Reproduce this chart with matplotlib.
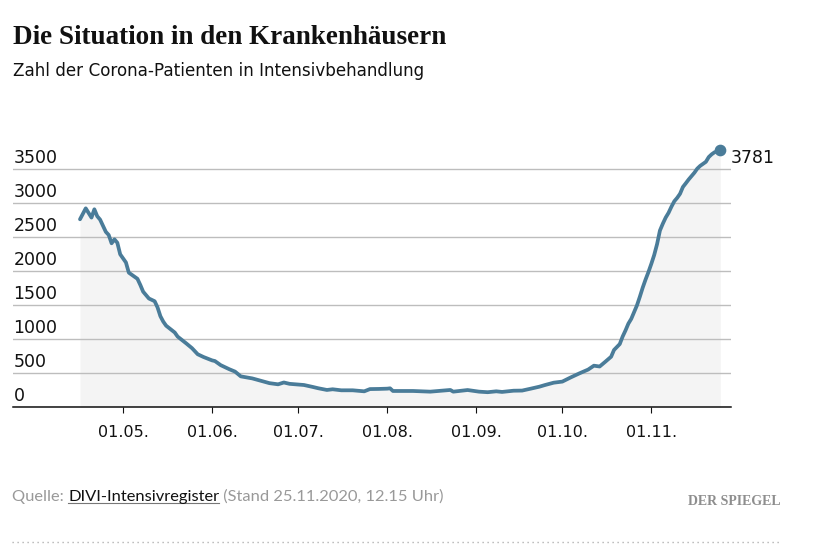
import matplotlib
matplotlib.use("Agg")
import matplotlib.pyplot as plt
import matplotlib.dates as mdates
from matplotlib.lines import Line2D
import numpy as np
import warnings
warnings.filterwarnings("ignore")

# ---------------- data ----------------
dates = ["2020-04-16", "2020-04-18", "2020-04-20", "2020-04-21", "2020-04-22", "2020-04-23",
         "2020-04-25", "2020-04-26", "2020-04-27", "2020-04-28", "2020-04-29", "2020-04-30",
         "2020-05-02", "2020-05-03", "2020-05-04", "2020-05-06", "2020-05-07", "2020-05-08",
         "2020-05-10", "2020-05-12", "2020-05-13", "2020-05-14", "2020-05-15", "2020-05-16",
         "2020-05-19", "2020-05-20", "2020-05-23", "2020-05-25", "2020-05-27", "2020-05-29",
         "2020-06-01", "2020-06-02", "2020-06-04", "2020-06-07", "2020-06-09", "2020-06-11",
         "2020-06-15", "2020-06-18", "2020-06-21", "2020-06-24", "2020-06-26", "2020-06-28",
         "2020-07-03", "2020-07-06", "2020-07-08", "2020-07-11", "2020-07-13", "2020-07-16",
         "2020-07-20", "2020-07-24", "2020-07-26", "2020-07-29", "2020-08-01", "2020-08-02",
         "2020-08-03", "2020-08-07", "2020-08-10", "2020-08-16", "2020-08-23", "2020-08-24",
         "2020-08-29", "2020-09-02", "2020-09-05", "2020-09-08", "2020-09-10", "2020-09-14",
         "2020-09-17", "2020-09-20", "2020-09-23", "2020-09-25", "2020-09-28", "2020-10-01",
         "2020-10-04", "2020-10-07", "2020-10-10", "2020-10-12", "2020-10-14", "2020-10-16",
         "2020-10-18", "2020-10-19", "2020-10-21", "2020-10-22", "2020-10-23", "2020-10-24",
         "2020-10-25", "2020-10-26", "2020-10-27", "2020-10-28", "2020-10-29", "2020-10-30",
         "2020-10-31", "2020-11-01", "2020-11-02", "2020-11-03", "2020-11-04", "2020-11-05",
         "2020-11-06", "2020-11-07", "2020-11-08", "2020-11-09", "2020-11-10", "2020-11-11",
         "2020-11-12", "2020-11-13", "2020-11-14", "2020-11-15", "2020-11-16", "2020-11-17",
         "2020-11-18", "2020-11-19", "2020-11-20", "2020-11-21", "2020-11-22", "2020-11-23",
         "2020-11-24", "2020-11-25"]
patients = [2765, 2926, 2790, 2912, 2810, 2760,
            2580, 2534, 2412, 2470, 2420, 2250,
            2130, 1980, 1950, 1890, 1800, 1700,
            1600, 1560, 1470, 1340, 1260, 1200,
            1100, 1040, 940, 870, 780, 740,
            690, 680, 620, 560, 525, 455,
            425, 390, 355, 338, 365, 345,
            328, 300, 280, 255, 265, 250,
            250, 235, 268, 270, 274, 279,
            240, 240, 240, 230, 255, 230,
            254, 230, 222, 235, 226, 244,
            246, 274, 303, 328, 362, 378,
            441, 500, 555, 612, 600, 671,
            744, 843, 930, 1040, 1130, 1230,
            1300, 1400, 1500, 1626, 1760, 1880,
            1990, 2110, 2240, 2400, 2600, 2700,
            2790, 2860, 2950, 3030, 3080, 3140,
            3240, 3294, 3350, 3400, 3450, 3510,
            3550, 3580, 3610, 3680, 3720, 3750,
            3765, 3781]
y_ticks = [0, 500, 1000, 1500, 2000, 2500, 3000, 3500]
x_ticks = ["2020-05-01", "2020-06-01", "2020-07-01", "2020-08-01",
           "2020-09-01", "2020-10-01", "2020-11-01"]
last_label = "3781"

title = "Die Situation in den Krankenhäusern"
subtitle = "Zahl der Corona-Patienten in Intensivbehandlung"
src_a = "Quelle: "
src_b = "DIVI-Intensivregister"
src_c = " (Stand 25.11.2020, 12.15 Uhr)"
logo = "DER SPIEGEL"

# ---------------- figure ----------------
W, H = 828, 553
fig = plt.figure(figsize=(W / 100, H / 100), dpi=100)
fig.patch.set_facecolor("white")

def fx(x):
    return x / W

def fy(y):
    return 1 - y / H

LINE = "#4a7c99"
GRID = "#bdbdbd"
FILL = "#f4f4f4"
GREY = "#999999"

x_left, x_right = 13.3, 730.7
y_bot, y_top = 407.3, 142.1
ax = fig.add_axes([fx(x_left), fy(y_bot), (x_right - x_left) / W, (y_bot - y_top) / H])

d = np.array([mdates.datestr2num(s) for s in dates])
v = np.array(patients, dtype=float)

px_per_day = 2.871
x0 = d[0] - (80 - x_left) / px_per_day
x1 = d[0] + (x_right - 80) / px_per_day
ax.set_xlim(x0, x1)
ax.set_ylim(0, 3900)

ax.fill_between(d, v, 0, color=FILL, lw=0, zorder=0)
ax.plot(d, v, color=LINE, lw=2.7, solid_joinstyle="round", solid_capstyle="round", zorder=3)
ax.plot([d[-1]], [v[-1]], "o", color=LINE, ms=7.4, mec=LINE, clip_on=False, zorder=4)
ax.annotate(last_label, xy=(d[-1], v[-1]), xytext=(10.5, -12.5), textcoords="offset pixels",
            ha="left", va="baseline", fontsize=12.5, color="#111111", family="DejaVu Sans",
            annotation_clip=False)

for s in ["top", "right", "left"]:
    ax.spines[s].set_visible(False)
ax.spines["bottom"].set_color("#111111")
ax.spines["bottom"].set_linewidth(1.1)
ax.spines["bottom"].set_zorder(5)

ax.set_yticks(y_ticks)
ax.yaxis.set_tick_params(length=0, labelleft=False)
ax.yaxis.grid(True, color=GRID, lw=1.0, zorder=1)
ax.set_axisbelow(False)
for gl in ax.get_ygridlines():
    gl.set_zorder(1)

for yt in y_ticks:
    ax.annotate(str(yt), xy=(0, yt), xycoords=("axes fraction", "data"),
                xytext=(0.3, 6.6), textcoords="offset pixels",
                ha="left", va="baseline", fontsize=12.5, color="#111111",
                family="DejaVu Sans", annotation_clip=False)

ax.set_xticks([mdates.datestr2num(s) for s in x_ticks])
ax.xaxis.set_major_formatter(mdates.DateFormatter("%d.%m."))
ax.tick_params(axis="x", direction="out", length=4.3, width=0.8, color="#111111",
               labelsize=11.5, labelcolor="#111111", pad=8.7)
for lab in ax.get_xticklabels():
    lab.set_family("DejaVu Sans")

# ---------------- texts ----------------
renderer = fig.canvas.get_renderer()

def fit_width(t, width_px):
    bb = t.get_window_extent(renderer)
    t.set_fontsize(t.get_fontsize() * width_px / bb.width)

t_title = fig.text(fx(12.7), fy(44.3), title, ha="left", va="baseline", fontsize=20,
                   family=["Liberation Serif", "DejaVu Serif"], weight="bold", color="#111111")
fit_width(t_title, 434)

t_sub = fig.text(fx(12.7), fy(75.7), subtitle, ha="left", va="baseline", fontsize=13,
                 family=["DejaVu Sans"], color="#111111")
fit_width(t_sub, 413)

# footer (three parts)
fam_foot = ["Liberation Sans Narrow", "Lato", "DejaVu Sans"]
fs_foot = 10.0
probe = fig.text(0, 0, src_a + src_b + src_c, fontsize=fs_foot, family=fam_foot)
bw = probe.get_window_extent(renderer).width
fs_foot = fs_foot * 431 / bw
probe.remove()

xpos = 12.3
base = 500.7
ta = fig.text(fx(xpos), fy(base), src_a, ha="left", va="baseline", fontsize=fs_foot,
              family=fam_foot, color=GREY)
wa = ta.get_window_extent(renderer).width
tb = fig.text(fx(xpos + wa), fy(base), src_b, ha="left", va="baseline", fontsize=fs_foot,
              family=fam_foot, color="#111111")
wb = tb.get_window_extent(renderer).width
tc = fig.text(fx(xpos + wa + wb), fy(base), src_c, ha="left", va="baseline", fontsize=fs_foot,
              family=fam_foot, color=GREY)
fig.add_artist(Line2D([fx(xpos + wa), fx(xpos + wa + wb)], [fy(503.0), fy(503.0)],
                      color="#777777", lw=0.8))

t_logo = fig.text(fx(688.3), fy(505), logo, ha="left", va="baseline", fontsize=9,
                  family=["Liberation Serif", "DejaVu Serif"], weight="bold", color="#8e8e8e")
fit_width(t_logo, 93.4)

fig.add_artist(Line2D([fx(12), fx(779)], [fy(542.3), fy(542.3)], color="#aaaaaa",
                      lw=1.0, linestyle=(0, (0.9, 2.7))))

fig.savefig("out.png", dpi=100, facecolor="white")
